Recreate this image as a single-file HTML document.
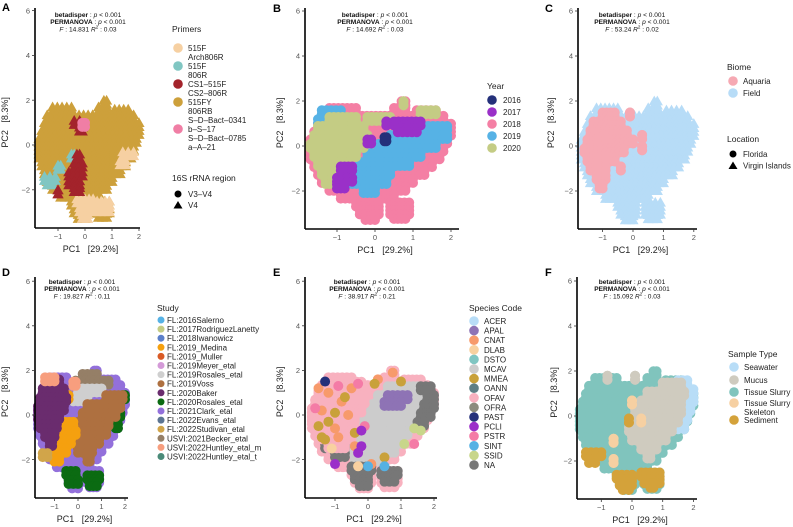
<!DOCTYPE html>
<html><head><meta charset="utf-8"><style>
html,body{margin:0;padding:0;background:#fff;}
svg{display:block;font-family:"Liberation Sans",sans-serif;}
.tk{font-size:7.5px;fill:#555;}
.ax{font-size:9px;fill:#222;}
.lg{font-size:8px;fill:#222;}
.lt{font-size:8.5px;fill:#222;}
.st{font-size:6.6px;fill:#111;}
.pl{font-size:11px;font-weight:bold;fill:#000;}
</style></head><body>
<svg id="fig" width="793" height="527" viewBox="0 0 793 527" xmlns="http://www.w3.org/2000/svg"></svg>
<script>
// ---------- data (PC units) ----------
// full cloud as row spans [y, xmin, xmax]
const cloudSpans = [[1.9,0.7,0.8],[1.6,-1.2,-0.5],[1.6,0.5,0.8],[1.5,1.1,1.6],[1.25,-1.4,1.8],[0.9,-1.5,2.0],[0.55,-1.6,2.0],[0.2,-1.7,1.9],[-0.15,-1.7,1.8],[-0.5,-1.7,1.7],[-0.85,-1.6,1.5],[-1.2,-1.5,1.3],[-1.55,-1.4,1.0],[-1.9,-1.2,0.8],[-2.25,-0.9,0.5],[-2.6,-0.5,0.1],[-2.6,0.4,0.9],[-2.95,-0.4,0.1],[-2.95,0.4,0.9],[-3.2,-0.25,0.0],[-3.15,0.5,0.8]];
// A: primers
const aPeach = [[-2.5,-0.3,0.3],[-2.9,-0.2,0.2],[-3.2,-0.1,0.1],[-2.6,0.3,0.9],[-2.9,0.4,0.9],[-0.4,1.4,1.8],[-0.8,1.3,1.5]];
const aTeal = [[-1.5,-1.5,-1.1],[-1.7,-1.4,-1.2],[-1.0,-1.0,-0.9],[-0.5,-0.5,-0.4]];
const aRed = [[-0.5,-0.3,-0.2],[-0.9,-0.4,-0.1],[-1.3,-0.6,-0.1],[-1.7,-0.6,-0.2],[-2.0,-0.4,-0.2],[-2.1,-1.0,-1.0],[1.0,-0.4,-0.2],[0.7,-0.2,-0.1]];
const aPink = [[0.9,-0.1,0.0]];
// B: year
const b2019 = [[1.5,-1.4,-0.9],[1.1,-1.5,-1.0],[0.8,0.9,1.9],[0.4,0.4,1.9],[0.0,0.1,1.6],[-0.4,-0.2,1.2],[-0.8,-0.4,0.9],[-1.2,-0.5,0.4],[-1.6,-0.6,0.3],[-2.0,-0.3,0.0]];
const b2020 = [[1.2,-1.2,-0.5],[0.8,-1.5,-0.3],[0.4,-1.6,-0.2],[0.0,-1.7,-0.3],[-0.4,-1.6,-0.5],[-0.8,-1.5,-0.8],[-1.2,-1.4,-1.0],[-1.6,-1.3,-1.1],[1.5,1.2,1.6],[1.9,0.75,0.75],[1.2,-0.2,0.4]];
const b2017 = [[1.0,0.5,1.2],[0.7,0.6,1.1],[-1.0,-0.9,-0.6],[-1.5,-1.0,-0.6],[-1.8,-1.0,-0.8],[0.2,-0.2,-0.1],[1.0,0.3,0.3]];
const b2016 = [[0.3,0.25,0.3]];
// C: biome
const cAquaria = [[1.4,-1.0,-0.6],[1.0,-1.3,-0.4],[0.6,-1.4,-0.2],[0.2,-1.5,0.0],[-0.2,-1.6,-0.3],[-0.6,-1.5,-0.6],[-1.0,-1.4,-0.9],[-1.4,-1.2,-0.9],[-1.8,-1.1,-1.0],[0.4,0.3,0.3],[-0.1,0.3,0.3],[-1.0,-0.4,-0.4],[1.4,-0.1,-0.1]];
// D: study
const dGreen = [[-2.6,-0.5,-0.1],[-3.0,-0.4,0.0],[-2.8,0.4,0.9],[-3.1,0.5,0.8],[0.8,1.9,2.0],[0.0,1.7,1.8],[-0.5,1.6,1.7]];
const dTaupe = [[1.75,0.2,0.8],[1.45,-0.1,1.3]];
const dGray = [[1.1,0.0,1.0],[0.7,-0.2,0.4]];
const dBrown = [[0.8,1.2,1.9],[0.4,0.4,1.8],[0.0,0.2,1.6],[-0.4,0.0,1.3],[-0.8,-0.1,1.2],[-1.2,0.0,0.9],[-1.6,0.0,0.6],[-2.0,0.4,0.5]];
const dOrange = [[0.8,-0.6,-0.4],[-0.4,-0.7,-0.2],[-0.8,-0.8,-0.1],[-1.2,-0.9,-0.3],[-1.6,-1.0,-0.5],[-2.0,-1.0,-0.8]];
const dPurple = [[1.5,-1.3,-0.8],[1.1,-1.5,-0.6],[0.7,-1.6,-0.5],[0.3,-1.7,-0.6],[-0.1,-1.7,-0.8],[-0.5,-1.6,-0.9],[-0.9,-1.4,-1.0],[-1.3,-1.2,-1.1]];
const dSalmon = [[1.6,-1.4,-1.0],[1.4,-0.2,-0.1]];
const dGold = [[-1.8,-1.5,-1.3]];
// E: species
const eNA = [[-2.4,-0.5,0.1],[-2.8,-0.4,0.0],[-3.1,-0.25,0.0],[-2.6,0.4,0.9],[-2.9,0.5,0.8],[1.2,1.6,1.9],[0.8,1.8,2.0],[0.4,1.7,2.0],[0.0,1.6,1.9],[-0.4,1.5,1.7],[-1.4,-1.3,-0.7],[-1.8,-1.0,-0.7]];
const eMCAV = [[1.2,0.6,1.5],[0.8,0.3,1.8],[0.4,0.0,1.8],[0.0,-0.2,1.6],[-0.4,-0.3,1.4],[-0.8,-0.2,1.2],[-1.2,-0.4,1.0],[-1.6,-0.6,0.8],[-2.0,-0.4,0.4]];
const eOFAV = [[1.4,-1.3,-0.2],[1.0,-1.5,0.0],[0.6,-1.6,-0.1],[0.2,-1.7,-0.2],[-0.2,-1.7,-0.4],[-0.6,-1.6,-0.4],[-1.0,-1.4,-0.5],[-1.4,-1.2,-0.7]];
const eAPAL = [[0.8,0.6,1.2],[0.5,0.5,1.0]];
const eCNAT = [[-1.2,1.0],[-0.8,0.6],[-1.4,0.2],[-0.5,1.2],[0.3,1.6],[0.75,1.9],[-1.0,-0.6],[-0.4,-1.4],[0.1,-2.2],[-0.6,0.0],[-1.5,1.2],[-0.9,-1.0]];
const eMMEA = [[-1.2,-0.3],[-1.4,-1.0],[-0.7,0.8],[0.2,1.4],[1.0,1.5],[-1.0,0.1],[-0.4,-0.8],[-1.5,-0.5],[0.5,-1.9],[-1.3,-1.1]];
const ePSTR = [[-0.3,1.4],[-1.6,0.3],[-0.9,1.3],[-0.1,-0.5],[1.4,-1.3]];
const ePCLI = [[-0.2,-1.4],[-0.3,-1.7],[-1.0,-2.2],[-0.2,-0.7]];
const eSINT = [[0.5,-2.3],[0.0,-2.3]];
const eSSID = [[1.4,-0.6],[1.1,-1.3],[1.6,-0.7]];
const ePAST = [[-1.3,1.5]];
const eDLAB = [[-1.1,-1.5],[-0.3,-2.3]];
// F: sample type
const fMucus = [[1.4,1.0,1.6],[1.0,0.5,1.7],[0.6,0.3,1.6],[0.2,0.1,1.6],[-0.2,0.0,1.5],[-0.6,-0.1,1.3],[-1.0,0.0,1.1],[-1.4,0.3,0.8],[-1.8,0.5,0.6],[1.7,-0.8,-0.8],[1.7,0.1,0.1]];
const fSea = [[1.5,1.5,1.8],[1.1,1.7,2.0],[0.7,1.7,2.0],[0.3,1.6,1.9],[-0.1,1.6,1.8],[-0.5,1.5,1.7]];
const fSed = [[-1.7,-1.5,-1.0],[-2.0,-1.4,-1.2],[-2.7,-0.5,0.0],[-3.0,-0.4,0.0],[-3.2,-0.3,-0.1],[-2.6,0.3,0.9],[-2.9,0.4,0.9],[-3.1,0.6,0.7],[-0.2,-0.1,-0.1]];
const fSkel = [[-2.0,-0.6,-0.6],[-1.1,-0.6,-0.6],[0.6,0.0,0.0],[-0.2,0.3,0.3]];

const xTicks = [-1,0,1,2];
const yTicks = [6,4,2,0,-2];

// ---------- rendering ----------
const NS = "http://www.w3.org/2000/svg";
const svg = document.getElementById('fig');
function mk(tag, attrs, parent){
  const e = document.createElementNS(NS, tag);
  for (const k in attrs) e.setAttribute(k, attrs[k]);
  (parent||svg).appendChild(e);
  return e;
}
function panel(id, x0, kx, y0, ky, left, bottom, right, top){
  const g = mk('g', {});
  
  
  return {g, sx: v => x0 + v*kx, sy: v => y0 - v*ky, left, bottom, right, top, id};
}
function marker(P, x, y, color, shape, parent){
  let e;
  if (shape === 'tri') {
    const r = 5.6;
    e = mk('polygon', {points: `${x},${y-r} ${x-r},${y+r*0.75} ${x+r},${y+r*0.75}`, fill: color}, parent);
  } else {
    e = mk('circle', {cx: x, cy: y, r: 5.0, fill: color}, parent);
  }
  return e;
}
function drawSpans(P, spans, color, shape, name){
  const g = mk('g', {}, P.g);
  
  
  spans.forEach(s => {
    const x1 = P.sx(s[1]), x2 = P.sx(s[2]);
    const n = Math.max(1, Math.round((x2 - x1) / 4.5));
    [0.09, -0.09].forEach(off => {
      const y = P.sy(s[0] + off);
      for (let i = 0; i <= n; i++) {
        const x = x1 + (x2 - x1) * i / n;
        const m = marker(P, x, y, color, shape, g);
        
        
      }
    });
  });
}
function drawPts(P, pts, color, name){
  const g = mk('g', {}, P.g);
  
  
  pts.forEach(p => {
    const m = marker(P, P.sx(p[0]), P.sy(p[1]), color, 'circle', g);
    
    
  });
}
function axes(P, letter, lx, ly, stats, ylx){
  const g = mk('g', {}, P.g);
  
  
  const yl = mk('line', {x1: P.left, y1: P.top, x2: P.left, y2: P.bottom, stroke: '#000', 'stroke-width': 1.6}, g);
  
  
  const xl = mk('line', {x1: P.left, y1: P.bottom, x2: P.right, y2: P.bottom, stroke: '#000', 'stroke-width': 1.6}, g);
  
  
  xTicks.forEach(t => {
    const x = P.sx(t);
    const tl = mk('line', {x1: x, y1: P.bottom, x2: x, y2: P.bottom + 3, stroke: '#333', 'stroke-width': 0.8}, g);
    
    
    const tx = mk('text', {x: x, y: P.bottom + 11, 'text-anchor': 'middle', class: 'tk'}, g);
    tx.textContent = t < 0 ? '\u2212' + (-t) : String(t);
    
    
  });
  yTicks.forEach(t => {
    const y = P.sy(t);
    const tl = mk('line', {x1: P.left - 3, y1: y, x2: P.left, y2: y, stroke: '#333', 'stroke-width': 0.8}, g);
    
    
    const tx = mk('text', {x: P.left - 5, y: y + 2.7, 'text-anchor': 'end', class: 'tk'}, g);
    tx.textContent = t < 0 ? '\u2212' + (-t) : String(t);
    
    
  });
  const xt = mk('text', {x: (P.left + P.right) / 2 + 3, y: P.bottom + 24, 'text-anchor': 'middle', class: 'ax'}, g);
  xt.textContent = 'PC1\u00a0\u00a0\u00a0[29.2%]';
  
  
  const cy = P.top + (P.bottom - P.top) * 0.52;
  const ytt = mk('text', {x: ylx, y: cy, 'text-anchor': 'middle', class: 'ax', transform: `rotate(-90 ${ylx} ${cy})`}, g);
  ytt.textContent = 'PC2\u00a0\u00a0\u00a0[8.3%]';
  
  
  const pl = mk('text', {x: lx, y: ly, class: 'pl'}, g);
  pl.textContent = letter;
  
  
  const sx = stats[0], sy = stats[1];
  const s1 = mk('text', {x: sx, y: sy, 'text-anchor': 'middle', class: 'st'}, g);
  s1.innerHTML = '<tspan font-weight="bold">betadisper</tspan> : <tspan font-style="italic">p</tspan> &lt; 0.001';
  
  
  const s2 = mk('text', {x: sx, y: sy + 7, 'text-anchor': 'middle', class: 'st'}, g);
  s2.innerHTML = '<tspan font-weight="bold">PERMANOVA</tspan> : <tspan font-style="italic">p</tspan> &lt; 0.001';
  
  
  const s3 = mk('text', {x: sx, y: sy + 14.5, 'text-anchor': 'middle', class: 'st'}, g);
  s3.innerHTML = '<tspan font-style="italic">F</tspan> : ' + stats[2] + ' <tspan font-style="italic">R</tspan><tspan dy="-3" font-size="4.5">2</tspan><tspan dy="3"> : ' + stats[3] + '</tspan>';
  
  
}
function legend(P, title, tx, ty, entries, kx, lx, y0, dy, name){
  const g = mk('g', {}, P.g);
  
  
  const t = mk('text', {x: tx, y: ty, class: 'lt'}, g);
  t.textContent = title;
  
  
  entries.forEach((e, i) => {
    const y = e.y !== undefined ? e.y : y0 + i * dy;
    const eg = mk('g', {}, g);
    
    
    if (e.shape === 'tri') mk('polygon', {points: `${kx},${y-7} ${kx-4.5},${y+0.5} ${kx+4.5},${y+0.5}`, fill: e.c}, eg);
    else mk('circle', {cx: kx, cy: y - (e.small ? 3 : 3 + (e.ko || 0)), r: e.small ? 3.5 : 4.8, fill: e.c}, eg);
    e.l.forEach((ln, j) => {
      const tt = mk('text', {x: lx, y: y + j * 9, class: 'lg'}, eg);
      tt.textContent = ln;
    });
  });
}

// ----- Panel A -----
const A = panel('a', 85, 27, 145, 22.4, 35, 228, 140, 8);
drawSpans(A, cloudSpans, '#CDA03B', 'tri', 'primer-515fy-806rb');
drawSpans(A, aPeach, '#F6D0A2', 'tri', 'primer-515f-arch806r');
drawSpans(A, aTeal, '#80C6C2', 'tri', 'primer-515f-806r');
drawSpans(A, aRed, '#A3232B', 'tri', 'primer-cs1-515f');
drawSpans(A, aPink, '#F07EA5', 'circle', 'primer-sdbact');
axes(A, 'A', 2, 11, [88, 17, '14.831', '0.03'], 8);
legend(A, 'Primers', 172, 32, [
  {c: '#F6D0A2', l: ['515F', 'Arch806R'], y: 51, ko: 0},
  {c: '#80C6C2', l: ['515F', '806R'], y: 69},
  {c: '#A3232B', l: ['CS1\u2013515F', 'CS2\u2013806R'], y: 87},
  {c: '#CDA03B', l: ['515FY', '806RB', 'S\u2013D\u2013Bact\u20130341'], y: 105},
  {c: '#F07EA5', l: ['b\u2013S\u201317', 'S\u2013D\u2013Bact\u20130785', 'a\u2013A\u201321'], y: 132}
], 178, 188, 0, 0, 'primers-legend');
legend(A, '16S rRNA region', 172, 181, [
  {c: '#000', l: ['V3\u2013V4'], y: 197, small: true},
  {c: '#000', l: ['V4'], y: 208, shape: 'tri'}
], 178, 188, 0, 0, 'region-legend');

// ----- Panel B -----
const B = panel('b', 375, 38, 146, 22.5, 305, 229, 459, 8);
drawSpans(B, cloudSpans, '#F47FA4', 'circle', 'year-2018');
drawSpans(B, b2019, '#56B2E5', 'circle', 'year-2019');
drawSpans(B, b2020, '#C4CC84', 'circle', 'year-2020');
drawSpans(B, b2017, '#9A30C8', 'circle', 'year-2017');
drawSpans(B, b2016, '#24307A', 'circle', 'year-2016');
axes(B, 'B', 273, 12, [375, 17, '14.692', '0.03'], 283);
legend(B, 'Year', 487, 89, ['2016','2017','2018','2019','2020'].map((l, i) => ({c: ['#24307A','#9A30C8','#F47FA4','#56B2E5','#C4CC84'][i], l: [l]})), 492, 503, 103, 12, 'year-legend');

// ----- Panel C -----
const C = panel('c', 633, 30.4, 146, 22.5, 578, 229, 697, 8);
drawSpans(C, cloudSpans, '#B7DCF7', 'tri', 'biome-field');
drawSpans(C, cAquaria, '#F6A9B3', 'circle', 'biome-aquaria');
axes(C, 'C', 545, 12, [632, 17, '53.24', '0.02'], 554);
legend(C, 'Biome', 727, 70, [{c: '#F6A9B3', l: ['Aquaria']}, {c: '#B7DCF7', l: ['Field']}], 733, 743, 84, 12, 'biome-legend');
legend(C, 'Location', 727, 142, [{c: '#000', l: ['Florida'], small: true}, {c: '#000', l: ['Virgin Islands'], shape: 'tri'}], 733, 743, 157, 11.5, 'location-legend');

// ----- Panel D -----
const D = panel('d', 78, 23.5, 415, 22.3, 35, 498, 128, 277);
drawSpans(D, cloudSpans, '#9370DB', 'circle', 'study-clark');
drawSpans(D, dGreen, '#0B6B12', 'circle', 'study-rosales-2020');
drawSpans(D, dTaupe, '#957F67', 'circle', 'study-becker');
drawSpans(D, dGray, '#CFCFCF', 'circle', 'study-rosales-2019');
drawSpans(D, dBrown, '#AE7040', 'circle', 'study-voss');
drawSpans(D, dOrange, '#F5A00F', 'circle', 'study-medina');
drawSpans(D, dPurple, '#6A2C6E', 'circle', 'study-baker');
drawSpans(D, dSalmon, '#F79E7E', 'circle', 'study-huntley-m');
drawSpans(D, dGold, '#D1A54A', 'circle', 'study-studivan');
axes(D, 'D', 2, 276, [82, 284, '19.827', '0.11'], 8);
const dNames = ['FL:2016Salerno','FL:2017RodriguezLanetty','FL:2018Iwanowicz','FL:2019_Medina','FL:2019_Muller','FL:2019Meyer_etal','FL:2019Rosales_etal','FL:2019Voss','FL:2020Baker','FL:2020Rosales_etal','FL:2021Clark_etal','FL:2022Evans_etal','FL:2022Studivan_etal','USVI:2021Becker_etal','USVI:2022Huntley_etal_m','USVI:2022Huntley_etal_t'];
const dCols = ['#56B2E5','#C4CC84','#5B7FC9','#F5A00F','#D95B26','#D49AD8','#CFCFCF','#AE7040','#6A2C6E','#0B6B12','#9370DB','#5C7592','#D1A54A','#957F67','#F79E7E','#4A8A78'];
legend(D, 'Study', 157, 311, dNames.map((l, i) => ({c: dCols[i], l: [l], small: true})), 161, 167, 323, 9.1, 'study-legend');

// ----- Panel E -----
const E = panel('e', 368, 33, 415, 22.3, 305, 498, 437, 277);
drawSpans(E, cloudSpans, '#F8B1BF', 'circle', 'species-ofav-base');
drawSpans(E, eMCAV, '#CCCCCC', 'circle', 'species-mcav');
drawSpans(E, eNA, '#777777', 'circle', 'species-na');
drawSpans(E, eOFAV, '#F8B1BF', 'circle', 'species-ofav');
drawSpans(E, eAPAL, '#8E73B5', 'circle', 'species-apal');
drawPts(E, eCNAT, '#F79A6B', 'species-cnat');
drawPts(E, eMMEA, '#C9A13A', 'species-mmea');
drawPts(E, ePSTR, '#F47BA6', 'species-pstr');
drawPts(E, ePCLI, '#9B2FC9', 'species-pcli');
drawPts(E, eSINT, '#56B1E4', 'species-sint');
drawPts(E, eSSID, '#C8D68A', 'species-ssid');
drawPts(E, ePAST, '#24307A', 'species-past');
drawPts(E, eDLAB, '#F8D1A0', 'species-dlab');
axes(E, 'E', 273, 276, [367, 284, '38.917', '0.21'], 283);
const eNames = ['ACER','APAL','CNAT','DLAB','DSTO','MCAV','MMEA','OANN','OFAV','OFRA','PAST','PCLI','PSTR','SINT','SSID','NA'];
const eCols = ['#B8DDF7','#8E73B5','#F79A6B','#F8D1A0','#80C6C2','#CCCCCC','#C9A13A','#5F7F85','#F8B1BF','#8C8C7E','#24307A','#9B2FC9','#F47BA6','#56B1E4','#C8D68A','#777777'];
legend(E, 'Species Code', 469, 311, eNames.map((l, i) => ({c: eCols[i], l: [l]})), 474, 484, 324, 9.6, 'species-legend');

// ----- Panel F -----
const F = panel('f', 632, 30.7, 416, 22.5, 577, 499, 697, 277);
drawSpans(F, cloudSpans, '#80C4BD', 'circle', 'sample-tissue-slurry');
drawSpans(F, fSea, '#B8DDF7', 'circle', 'sample-seawater');
drawSpans(F, fMucus, '#CFCBBF', 'circle', 'sample-mucus');
drawSpans(F, fSed, '#D4A23A', 'circle', 'sample-sediment');
drawSpans(F, fSkel, '#F6D0A2', 'circle', 'sample-skeleton');
axes(F, 'F', 545, 276, [632, 284, '15.092', '0.03'], 557);
legend(F, 'Sample Type', 728, 357, [
  {c: '#B8DDF7', l: ['Seawater'], y: 370},
  {c: '#CFCBBF', l: ['Mucus'], y: 383},
  {c: '#80C4BD', l: ['Tissue Slurry'], y: 395},
  {c: '#F6D0A2', l: ['Tissue Slurry', 'Skeleton'], y: 406},
  {c: '#D4A23A', l: ['Sediment'], y: 423}
], 734, 744, 0, 0, 'sample-legend');
</script>
</body></html>
